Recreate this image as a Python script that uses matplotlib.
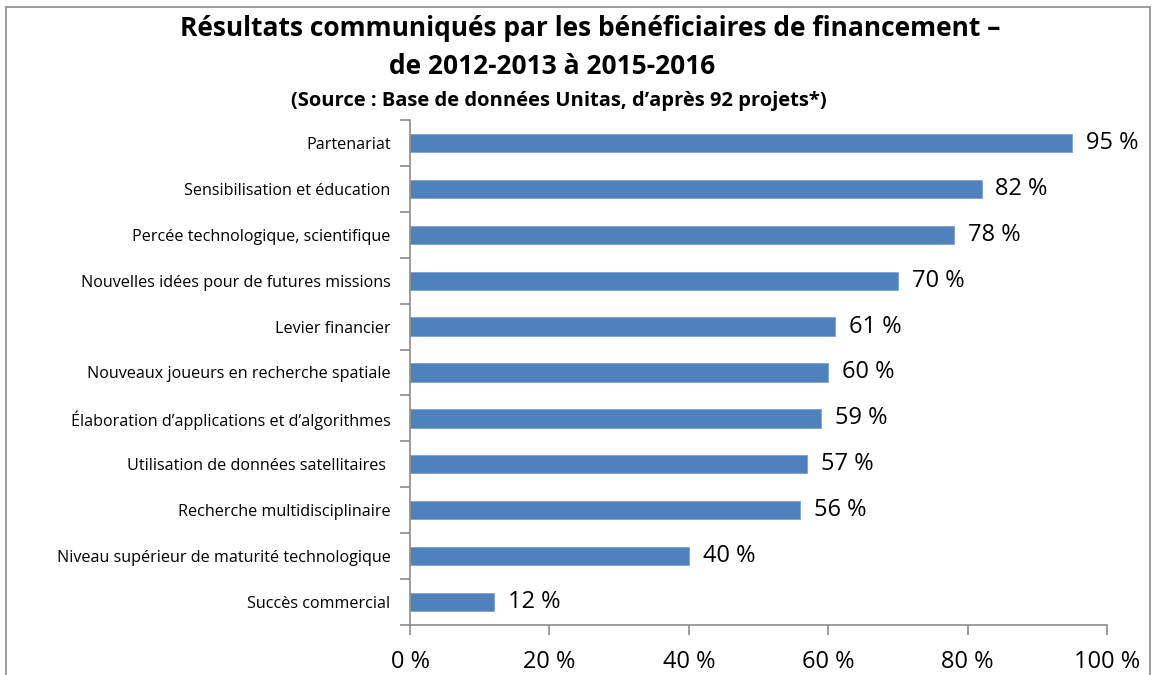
import matplotlib.pyplot as plt
from matplotlib.patches import Rectangle

# ---------- Data ----------
categories = [
    "Partenariat",
    "Sensibilisation et éducation",
    "Percée technologique, scientifique",
    "Nouvelles idées pour de futures missions",
    "Levier financier",
    "Nouveaux joueurs en recherche spatiale",
    "Élaboration d’applications et d’algorithmes",
    "Utilisation de données satellitaires ",
    "Recherche multidisciplinaire",
    "Niveau supérieur de maturité technologique",
    "Succès commercial",
]
values = [95, 82, 78, 70, 61, 60, 59, 57, 56, 40, 12]
x_ticks = [0, 20, 40, 60, 80, 100]

title_line1 = "Résultats communiqués par les bénéficiaires de financement –"
title_line2 = "de 2012-2013 à 2015-2016"
subtitle = "(Source : Base de données Unitas, d’après 92 projets*)"

plt.rcParams["font.family"] = ["Open Sans", "DejaVu Sans"]

BAR = "#4F81BD"
AXIS = "#8C8C8C"

fig = plt.figure(figsize=(11.53, 6.75), dpi=100)
ax = fig.add_axes([0.3556, 0.0741, 0.9601 - 0.3556, 0.8222 - 0.0741])

# ---------- Figure frame (cut at bottom like the source) ----------
fig.patches.append(Rectangle((6 / 1153, -0.05), (1150 - 6) / 1153, 1.05 - 7 / 675,
                             transform=fig.transFigure, fill=False,
                             edgecolor="#8C8C8C", linewidth=1.2))

# ---------- Bars ----------
y = list(range(len(categories)))
ax.barh(y, values, height=0.4, color=BAR, edgecolor="#7FA3D0", linewidth=0.6)
for yi, v in zip(y, values):
    ax.annotate(f"{v} %", (v, yi), xytext=(10, 0), textcoords="offset points",
                va="center", ha="left", fontsize=17)

ax.set_ylim(len(categories) - 0.5, -0.5)
ax.set_xlim(0, 100)

# y ticks between categories, labels at centers
ax.set_yticks([i - 0.5 for i in range(len(categories) + 1)])
ax.set_yticklabels([])
ax.set_yticks(y, minor=True)
ax.set_yticklabels(categories, minor=True, fontsize=11.6)
ax.tick_params(axis="y", which="minor", length=0, pad=14)
ax.tick_params(axis="y", which="major", length=7, direction="out", color=AXIS, width=1.2)

ax.set_xticks(x_ticks)
ax.set_xticklabels([f"{t} %" for t in x_ticks], fontsize=17)
ax.tick_params(axis="x", length=7, direction="out", color=AXIS, width=1.2, pad=11)

for s in ["top", "right"]:
    ax.spines[s].set_visible(False)
for s in ["left", "bottom"]:
    ax.spines[s].set_color(AXIS)
    ax.spines[s].set_linewidth(1.2)

# ---------- Titles ----------
fig.text(0.5117, 0.958, title_line1, ha="center", va="center", fontsize=19, fontweight="bold")
fig.text(0.4788, 0.902, title_line2, ha="center", va="center", fontsize=19, fontweight="bold")
fig.text(0.4848, 0.851, subtitle, ha="center", va="center", fontsize=14.5, fontweight="bold")

fig.savefig("out.png", dpi=100)
